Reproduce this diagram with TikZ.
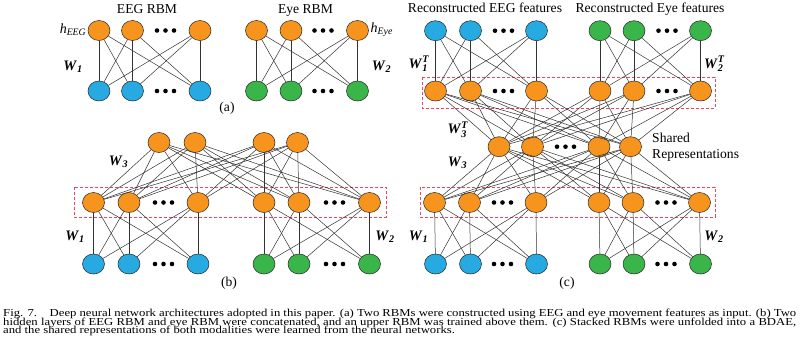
\documentclass[tikz,border=0pt]{standalone}
\usepackage{fontspec}
\usepackage{amsmath}
\usepackage{graphicx}
\setmainfont{Liberation Serif}
\usetikzlibrary{shapes.geometric}
\definecolor{nodeorange}{RGB}{247,148,30}
\definecolor{nodeblue}{RGB}{39,170,225}
\definecolor{nodegreen}{RGB}{58,181,74}
\definecolor{boxred}{RGB}{232,70,100}
\tikzset{
  unit/.style={ellipse,draw=black!85,line width=0.5pt,minimum width=22pt,minimum height=20pt,inner sep=0pt},
  hid/.style={unit,fill=nodeorange},
  eegu/.style={unit,fill=nodeblue},
  eyeu/.style={unit,fill=nodegreen},
  conn/.style={draw=black!80,line width=0.5pt},
  dotc/.style={circle,fill=black,inner sep=0pt,minimum size=4.6pt},
  lab/.style={font=\fontsize{13.6}{15}\selectfont,inner sep=0pt},
  wlab/.style={font=\fontsize{14.5}{16}\selectfont,inner sep=0pt},
  capline/.style={anchor=base west,inner sep=0pt,font=\fontsize{12.7}{13}\selectfont},
  selbox/.style={draw=boxred,line width=0.6pt,dash pattern=on 3pt off 2pt}
}
\newcommand{\mydots}[3]{\foreach \k/\o in {1/-8.5,2/0,3/8.5}{\node[dotc] (#1\k) at ({#2+\o},#3) {};}}
\newcommand{\Wl}[1]{$\textbf{\textit{W}}_{\textbf{\textit{#1}}}$}
\newcommand{\WlT}[1]{$\textbf{\textit{W}}^{\textbf{\textit{T}}}_{\textbf{\textit{#1}}}$}
\newcommand{\capsq}[1]{\scalebox{1}[0.84]{#1}}
\begin{document}
\begin{tikzpicture}[x=1pt,y=-1pt]
\fill[white] (0,0) rectangle (800,348);
\useasboundingbox (0,0) rectangle (800,348);

% ---------------- panel (a) ----------------
\node[lab,anchor=base] (tEEG) at (147,13.5) {EEG RBM};
\node[lab,anchor=base] (tEye) at (305.5,13.5) {Eye RBM};
\foreach \n/\x in {1/99,2/132.5,3/200}{
  \node[hid] (at\n) at (\x,30.5) {};
  \node[eegu] (ab\n) at (\x,91) {};
}
\foreach \n/\x in {1/256.5,2/291,3/357.5}{
  \node[hid] (et\n) at (\x,30.5) {};
  \node[eyeu] (eb\n) at (\x,91) {};
}
\mydots{adt}{165.5}{30.5}
\mydots{adb}{165.5}{91}
\mydots{edt}{323}{30.5}
\mydots{edb}{323}{91}
\foreach \u in {1,2,3}{\foreach \v in {1,2,3}{
  \draw[conn] (at\u) -- (ab\v);
  \draw[conn] (et\u) -- (eb\v);
}}
\node[font=\fontsize{14}{16}\selectfont,inner sep=0pt,anchor=east] (hEEG) at (86.5,30) {$\textit{h}_{\textit{EEG}}$};
\node[font=\fontsize{14}{16}\selectfont,inner sep=0pt,anchor=west] (hEye) at (370.5,30) {$\textit{h}_{\textit{Eye}}$};
\node[wlab] (aW1) at (73,67) {\Wl{1}};
\node[wlab] (aW2) at (381.5,67) {\Wl{2}};
\node[lab] (pa) at (227,108) {(a)};

% ---------------- panel (b) ----------------
\draw[selbox] (74,187) rectangle (386,217);
\foreach \n/\x in {1/159,2/195,3/264,4/297.5}{
  \node[hid] (bt\n) at (\x,142.5) {};
}
\foreach \n/\x in {1/93.5,2/129,3/198,4/264,5/299,6/369.5}{
  \node[hid] (bm\n) at (\x,202.5) {};
}
\foreach \n/\x in {1/93.5,2/129,3/198}{
  \node[eegu] (bb\n) at (\x,264) {};
}
\foreach \n/\x in {4/264,5/299,6/369.5}{
  \node[eyeu] (bb\n) at (\x,264) {};
}
\mydots{bdm1}{163.5}{202.5}
\mydots{bdm2}{334.5}{202.5}
\mydots{bdb1}{163.5}{264}
\mydots{bdb2}{334.5}{264}
\foreach \u in {1,2,3,4}{\foreach \v in {1,...,6}{
  \draw[conn] (bt\u) -- (bm\v);
}}
\foreach \u in {1,2,3}{\foreach \v in {1,2,3}{
  \draw[conn] (bm\u) -- (bb\v);
}}
\foreach \u in {4,5,6}{\foreach \v in {4,5,6}{
  \draw[conn] (bm\u) -- (bb\v);
}}
\node[wlab] (bW3) at (118.5,162) {\Wl{3}};
\node[wlab] (bW1) at (75,237) {\Wl{1}};
\node[wlab] (bW2) at (385,237) {\Wl{2}};
\node[lab] (pb) at (229,283) {(b)};

% ---------------- panel (c) ----------------
\node[lab,anchor=base] (tREEG) at (485,12.7) {Reconstructed EEG features};
\node[lab,anchor=base] (tREye) at (650,12.7) {Reconstructed Eye features};
\draw[selbox] (422,77) rectangle (715,108);
\draw[selbox] (420,187) rectangle (715,217);
\foreach \n/\x in {1/435.5,2/470.5,3/536.5}{
  \node[eegu] (ct\n) at (\x,30.7) {};
  \node[eegu] (cb\n) at (\x,264) {};
}
\foreach \n/\x in {4/600,5/634,6/700.5}{
  \node[eyeu] (ct\n) at (\x,30.7) {};
  \node[eyeu] (cb\n) at (\x,264) {};
}
\foreach \n/\x in {1/435.5,2/470.5,3/536.5,4/600,5/634,6/700.5}{
  \node[hid] (cu\n) at (\x,91) {};
}
\foreach \n/\x in {1/434.5,2/469.5,3/536,4/599,5/633,6/699.5}{
  \node[hid] (cl\n) at (\x,202.5) {};
}
\foreach \n/\x in {1/499,2/532.5,3/599,4/630.5}{
  \node[hid] (cs\n) at (\x,146.7) {};
}
\mydots{cdt1}{503.5}{30.7}
\mydots{cdt2}{667}{30.7}
\mydots{cdu1}{503.5}{91}
\mydots{cdu2}{667}{91}
\mydots{cds}{565.5}{146.7}
\mydots{cdl1}{502.5}{202.5}
\mydots{cdl2}{666}{202.5}
\mydots{cdb1}{502.5}{264}
\mydots{cdb2}{666}{264}
\foreach \u in {1,2,3}{\foreach \v in {1,2,3}{
  \draw[conn] (ct\u) -- (cu\v);
  \draw[conn] (cl\u) -- (cb\v);
}}
\foreach \u in {4,5,6}{\foreach \v in {4,5,6}{
  \draw[conn] (ct\u) -- (cu\v);
  \draw[conn] (cl\u) -- (cb\v);
}}
\foreach \u in {1,2,3,4}{\foreach \v in {1,...,6}{
  \draw[conn] (cs\u) -- (cu\v);
  \draw[conn] (cs\u) -- (cl\v);
}}
\node[lab,anchor=base west] (tShared) at (652,142.7) {Shared};
\node[lab,anchor=base west] (tRep) at (652,158.3) {Representations};
\node[wlab] (cW1T) at (419,64) {\WlT{1}};
\node[wlab] (cW2T) at (714.5,64) {\WlT{2}};
\node[wlab] (cW3T) at (458,129.5) {\WlT{3}};
\node[wlab] (cW3) at (457.5,163) {\Wl{3}};
\node[wlab] (cW1) at (418.5,236.5) {\Wl{1}};
\node[wlab] (cW2) at (714,236.5) {\Wl{2}};
\node[lab] (pc) at (567,283) {(c)};

% ---------------- caption ----------------
\node[capline] (cap1) at (3,316.7) {\capsq{\makebox[793pt][s]{Fig. 7.\quad Deep neural network architectures adopted in this paper. (a) Two RBMs were constructed using EEG and eye movement features as input. (b) Two}}};
\node[capline] (cap2) at (3,325.2) {\capsq{\makebox[793pt][s]{hidden layers of EEG RBM and eye RBM were concatenated, and an upper RBM was trained above them. (c) Stacked RBMs were unfolded into a BDAE,}}};
\node[capline] (cap3) at (3,333.7) {\capsq{and the shared representations of both modalities were learned from the neural networks.}};
\end{tikzpicture}
\end{document}
